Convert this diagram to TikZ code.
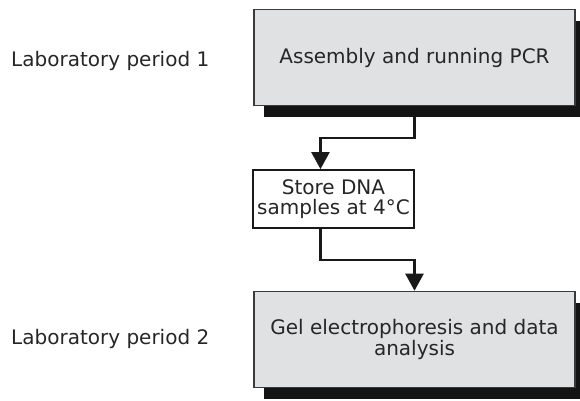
\documentclass[tikz,border=0pt]{standalone}
\usepackage{fontspec}
\setmainfont{DejaVu Sans}
\usetikzlibrary{arrows.meta,shadows,backgrounds,calc}

\definecolor{ink}{HTML}{262626}
\definecolor{boxgray}{HTML}{E0E1E3}
\definecolor{edge}{HTML}{3A3A3A}

\tikzset{
  x=1pt, y=-1pt,
  every node/.style={text=ink, font=\fontsize{20}{21}\selectfont},
  stagebox/.style={draw=edge, line width=1.6pt, fill=boxgray, align=center,
    minimum width=321pt, minimum height=96pt, inner sep=0pt,
    drop shadow={shadow xshift=10pt, shadow yshift=-11pt, fill=black!92, opacity=1}},
  holdbox/.style={draw=black!90, line width=1.8pt, fill=white, align=center,
    minimum width=161pt, minimum height=58pt, inner sep=0pt},
  periodlabel/.style={anchor=west, inner sep=0pt},
  conn/.style={draw=black!90, line width=2.5pt,
    -{Triangle[length=17pt,width=18pt]}},
}

\begin{document}
\begin{tikzpicture}
  \useasboundingbox (0,0) rectangle (580,400);

  % process stages
  \node[stagebox] (pcr) at (414.5,57.5) {Assembly and running PCR};
  \node[holdbox] (store) at (333.5,199) {Store DNA\\[-1pt]samples at 4°C};
  \node[stagebox] (gel) at (414.5,339.5) {Gel electrophoresis and data\\analysis};

  % period labels
  \node[periodlabel] (lab1) at (11,61) {Laboratory period 1};
  \node[periodlabel] (lab2) at (11,338.5) {Laboratory period 2};

  % bend points and attachment points of the connectors
  \coordinate (storeIn) at ($(store.north west)!0.42!(store.north east)$);
  \coordinate (storeOut) at ($(store.south west)!0.42!(store.south east)$);
  \coordinate (bend1) at (0,138);
  \coordinate (bend2) at (0,260);

  \begin{scope}[on background layer]
    \draw[conn] (pcr.south) -- (pcr.south |- bend1) -| (storeIn);
    \draw[conn] (storeOut) -- (storeOut |- bend2) -| (gel.north);
  \end{scope}
\end{tikzpicture}
\end{document}
